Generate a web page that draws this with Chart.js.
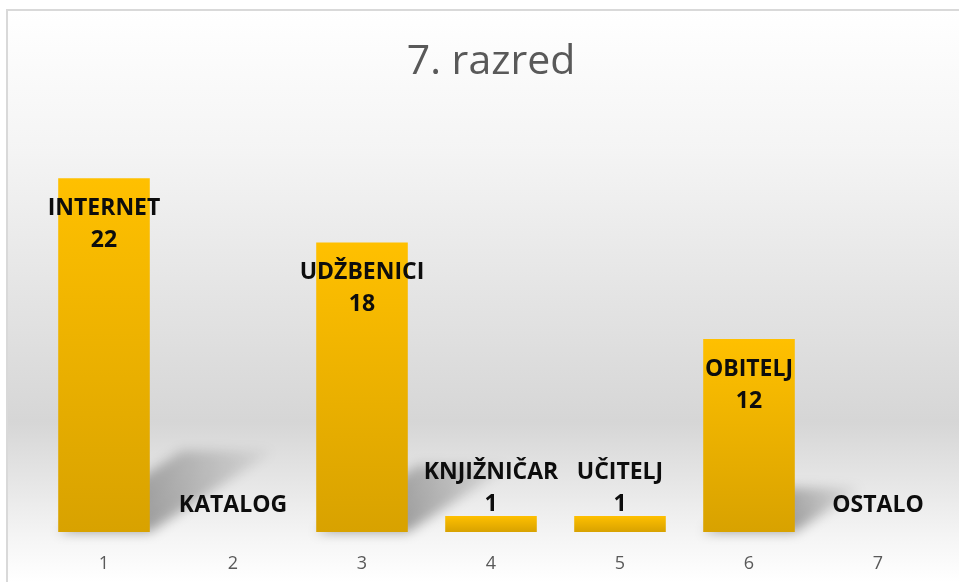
<!DOCTYPE html>
<html>
<head>
<meta charset="utf-8">
<script src="https://cdn.jsdelivr.net/npm/chart.js@4"></script>
<style>
  html, body { margin: 0; padding: 0; background: #fff; }
  #wrap { position: absolute; left: 0; top: 0; width: 959px; height: 582px; }
</style>
</head>
<body>
<div id="wrap"><canvas id="graf"></canvas></div>
<script>
// podaci
var kategorije = ['1', '2', '3', '4', '5', '6', '7'];
var nazivi = ['INTERNET', 'KATALOG', 'UDŽBENICI', 'KNJIŽNIČAR', 'UČITELJ', 'OBITELJ', 'OSTALO'];
var vrijednosti = [22, 0, 18, 1, 1, 12, 0];

// pozadina s gradijentom i rubom
var pozadina = {
    id: 'pozadina',
    beforeDraw: function (chart) {
        var c = chart.ctx;
        c.save();
        c.fillStyle = '#ffffff';
        c.fillRect(0, 0, chart.width, chart.height);
        var g = c.createLinearGradient(0, 10, 0, 582);
        g.addColorStop(0, '#ffffff');
        g.addColorStop(0.25, '#f4f4f4');
        g.addColorStop(0.72, '#d6d6d6');
        g.addColorStop(0.93, '#f6f6f6');
        g.addColorStop(1, '#ffffff');
        c.fillStyle = g;
        c.fillRect(7, 10, chart.width - 7, chart.height - 10);
        c.strokeStyle = '#d9d9d9';
        c.lineWidth = 2;
        c.beginPath();
        c.moveTo(7, chart.height);
        c.lineTo(7, 10);
        c.lineTo(chart.width, 10);
        c.stroke();
        c.restore();
    }
};

// sjene iza stupaca
var sjene = {
    id: 'sjene',
    beforeDatasetsDraw: function (chart) {
        var c = chart.ctx;
        var meta = chart.getDatasetMeta(0);
        c.save();
        c.filter = 'blur(6px)';
        meta.data.forEach(function (bar) {
            var h = bar.base - bar.y;
            if (h < 30) return;
            var l = bar.x - bar.width / 2, r = bar.x + bar.width / 2;
            var dx = h * 0.35, dy = h * 0.23;
            var g = c.createLinearGradient(r, bar.base, r + dx, bar.base - dy);
            g.addColorStop(0, 'rgba(0,0,0,0.35)');
            g.addColorStop(1, 'rgba(0,0,0,0.03)');
            c.fillStyle = g;
            c.beginPath();
            c.moveTo(l, bar.base);
            c.lineTo(r, bar.base);
            c.lineTo(r + dx, bar.base - dy);
            c.lineTo(l + dx, bar.base - dy);
            c.closePath();
            c.fill();
        });
        c.restore();
    }
};

// oznake na stupcima
var oznake = {
    id: 'oznake',
    afterDatasetsDraw: function (chart) {
        var c = chart.ctx;
        var meta = chart.getDatasetMeta(0);
        c.save();
        c.font = 'bold 23px "Open Sans"';
        c.fillStyle = '#0d0d0d';
        c.textAlign = 'center';
        c.textBaseline = 'middle';
        meta.data.forEach(function (bar, i) {
            var v = vrijednosti[i];
            var h = bar.base - bar.y;
            if (v === 0) {
                c.fillText(nazivi[i], bar.x, bar.base - 27);
            } else if (h > 70) {
                c.fillText(nazivi[i], bar.x, bar.y + 30);
                c.fillText(String(v), bar.x, bar.y + 62);
            } else {
                c.fillText(nazivi[i], bar.x, bar.y - 43);
                c.fillText(String(v), bar.x, bar.y - 11);
            }
        });
        c.restore();
    }
};

var ctx = document.getElementById('graf');
var graf = new Chart(ctx, {
    type: 'bar',
    data: {
        labels: kategorije,
        datasets: [{
            label: '7. razred',
            data: vrijednosti,
            backgroundColor: function (context) {
                var chart = context.chart;
                if (!chart.chartArea) return '#f5b800';
                var ys = chart.scales.y;
                var top = ys.getPixelForValue(context.raw);
                var base = ys.getPixelForValue(0);
                if (base - top < 1) return '#f5b800';
                var g = chart.ctx.createLinearGradient(0, top, 0, base);
                g.addColorStop(0, '#ffc000');
                g.addColorStop(1, '#d8a200');
                return g;
            },
            borderWidth: 0,
            barPercentage: 0.71,
            categoryPercentage: 1
        }]
    },
    options: {
        responsive: true,
        maintainAspectRatio: false,
        animation: false,
        layout: { padding: { left: 39.5, right: 16.5, top: 0, bottom: 0 } },
        plugins: {
            legend: { display: false },
            tooltip: { enabled: false },
            title: {
                display: true,
                text: '7. razred',
                color: '#595959',
                font: { family: '"Open Sans"', size: 41, weight: 'normal', lineHeight: 1.2 },
                padding: { top: 38, bottom: 42.8 }
            }
        },
        scales: {
            x: {
                grid: { display: false, drawTicks: false },
                border: { display: false },
                ticks: { color: '#595959', font: { family: '"Open Sans"', size: 18 }, padding: 21 },
                afterFit: function (scale) { scale.height = 50; }
            },
            y: {
                display: false,
                min: 0,
                max: 25
            }
        }
    },
    plugins: [pozadina, sjene, oznake]
});
</script>
</body>
</html>
